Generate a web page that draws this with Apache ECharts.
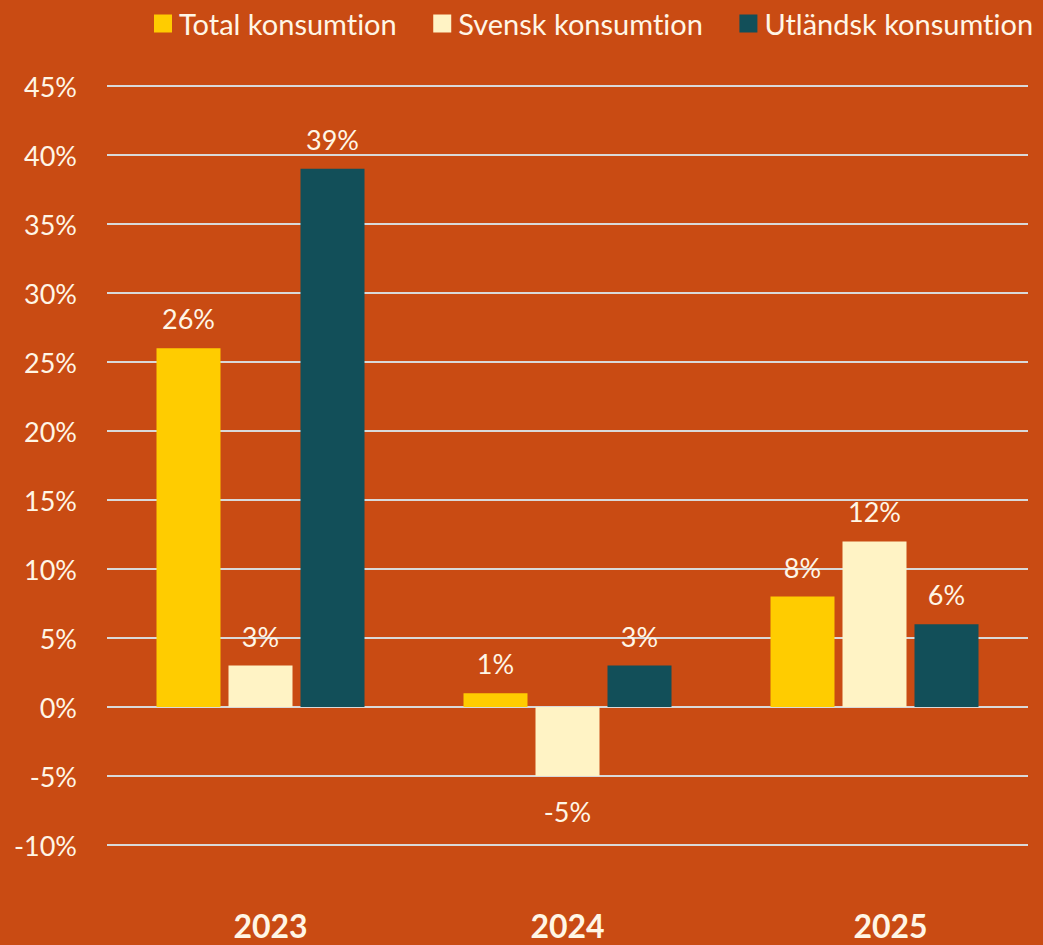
<!DOCTYPE html>
<html><head><meta charset="utf-8">
<script src="https://cdn.jsdelivr.net/npm/echarts@6/dist/echarts.min.js"></script>
<style>html,body{margin:0;padding:0;background:#C94B13;}#c{width:1043px;height:945px;}
#c text{font-variant-ligatures:none;font-feature-settings:"liga" 0,"clig" 0;}</style>
</head><body><div id="c"></div>
<script>
const categories = ['2023', '2024', '2025'];
const seriesNames = ['Total konsumtion', 'Svensk konsumtion', 'Utländsk konsumtion'];
const total = [26, 1, 8];
const svensk = [3, -5, 12];
const utlandsk = [39, 3, 6];
const yTicks = { min: -10, max: 45, interval: 5 };
const colors = ['#FFCC00', '#FFF3C5', '#124F59'];
const txt = '#FFF6E6';
const font = 'Lato';

const mk = (name, data, color) => ({
  name, type: 'bar', barWidth: 64, barGap: '12.5%',
  itemStyle: { color },
  label: {
    show: true, formatter: p => p.value + '%', color: txt, fontFamily: font, fontSize: 27,
    position: 'top', distance: 16
  },
  data: data.map(v => v < 0 ? { value: v, label: { position: 'bottom', distance: 22 } } : v)
});
const s = [mk(seriesNames[0], total, colors[0]), mk(seriesNames[1], svensk, colors[1]), mk(seriesNames[2], utlandsk, colors[2])];
const chart = echarts.init(document.getElementById('c'), null, { renderer: 'svg' });
const xl = { color: txt, fontSize: 32, fontWeight: 'bold', fontFamily: font };
chart.setOption({
  backgroundColor: '#C94B13',
  animation: false,
  textStyle: { fontFamily: font },
  legend: {
    top: 4, left: 149, width: 894, itemWidth: 18, itemHeight: 18, itemGap: 36, icon: 'rect',
    textStyle: { color: txt, fontSize: 29, fontFamily: font, padding: [0, 0, 0, 2] },
    data: seriesNames
  },
  grid: { left: 107, right: 15, top: 86, bottom: 100, containLabel: false },
  xAxis: {
    type: 'category', data: categories,
    axisLine: { show: false, onZero: false }, axisTick: { show: false },
    axisLabel: {
      ...xl, margin: 64,
      formatter: (v, i) => '{c' + i + '|' + v + '}',
      rich: {
        c0: { ...xl, padding: [0, 0, 0, 20] },
        c1: { ...xl, padding: [0, 0, 0, 0] },
        c2: { ...xl, padding: [0, 0, 0, 32] }
      }
    }
  },
  yAxis: {
    type: 'value', min: yTicks.min, max: yTicks.max, interval: yTicks.interval,
    axisLine: { show: false }, axisTick: { show: false },
    axisLabel: { color: txt, fontSize: 27, fontFamily: font, formatter: '{value}%', margin: 30 },
    splitLine: { lineStyle: { color: '#D9D9D9', width: 2 } }
  },
  series: s
});
</script></body></html>
